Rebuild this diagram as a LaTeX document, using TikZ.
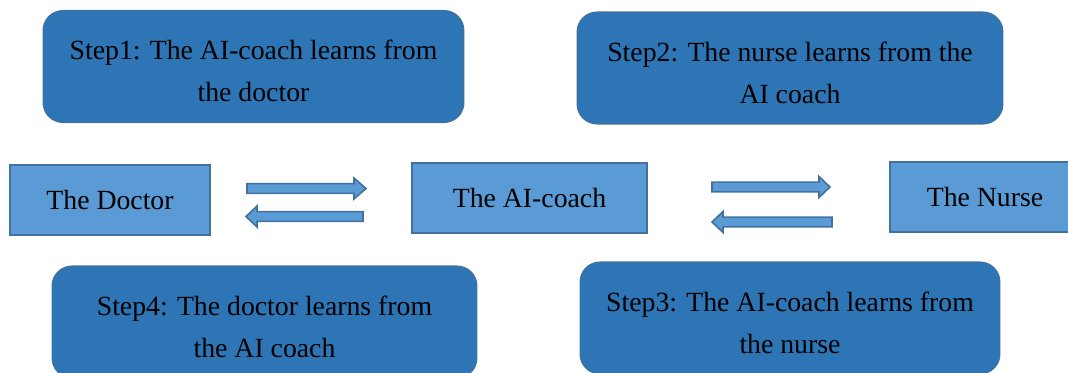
\documentclass[tikz,border=0pt]{standalone}
\usepackage{fontspec}
\setmainfont{Liberation Serif}
\usepackage{tikz}
\usetikzlibrary{positioning}

\definecolor{stepblue}{HTML}{2E75B6}
\definecolor{agentblue}{HTML}{5B9BD5}
\definecolor{edgeblue}{HTML}{41719C}

\tikzset{
   stepbox/.style={
      fill=stepblue,
      draw=edgeblue,
      line width=0.6pt,
      rounded corners=0.4cm,
      inner sep=0pt,
      minimum height=2.24cm
   },
   steptext/.style={
      align=center,
      inner sep=0pt,
      font=\fontsize{15.8}{23.8}\selectfont
   },
   agent/.style={
      fill=agentblue,
      draw=edgeblue,
      line width=1.4pt,
      inner sep=0pt,
      minimum height=1.4cm,
      font=\fontsize{15.8}{19}\selectfont
   },
   blockarrow/.style={
      fill=agentblue,
      draw=edgeblue,
      line width=0.9pt,
      line join=miter
   }
}

\begin{document}
\begin{tikzpicture}[x=0.02cm, y=-0.02cm]
   \useasboundingbox (0,0) rectangle (1068,372);

   % the three parties
   \node[agent, minimum width=4.0cm] (doctor) at (110,200) {The Doctor};
   \node[agent, minimum width=4.7cm] (coach) at (529.5,198) {The AI-coach};
   \node[agent, minimum width=3.8cm] (nurse) at (985,197) {The Nurse};

   % the four steps
   \node[stepbox, minimum width=8.42cm] (step1) at (253.5,66.5) {};
   \node[stepbox, minimum width=8.52cm] (step2) at (790,68) {};
   \node[stepbox, minimum width=8.40cm] (step3) at (790,318) {};
   \node[stepbox, minimum width=8.50cm] (step4) at (264.5,322) {};

   \node[steptext] (step1text) at ([yshift=-0.09cm]step1.center)
      {Step1: The AI-coach learns from\\the doctor};
   \node[steptext] (step2text) at ([yshift=-0.09cm]step2.center)
      {Step2: The nurse learns from the\\AI coach};
   \node[steptext] (step3text) at ([yshift=-0.09cm]step3.center)
      {Step3: The AI-coach learns from\\the nurse};
   \node[steptext] (step4text) at ([yshift=-0.09cm]step4.center)
      {Step4: The doctor learns from\\the AI coach};

   % block arrows: tail / head base / tip / centre line
   \foreach \s/\b/\t/\c in {247/354/366/188.5, 363/257/246/216.5,
                            712/819/830/187, 832/723/712/222}
   \draw[blockarrow]
      (\s,\c-4.8) -- (\b,\c-4.8) -- (\b,\c-10.5) -- (\t,\c) --
      (\b,\c+10.5) -- (\b,\c+4.8) -- (\s,\c+4.8) -- cycle;

\end{tikzpicture}
\end{document}
